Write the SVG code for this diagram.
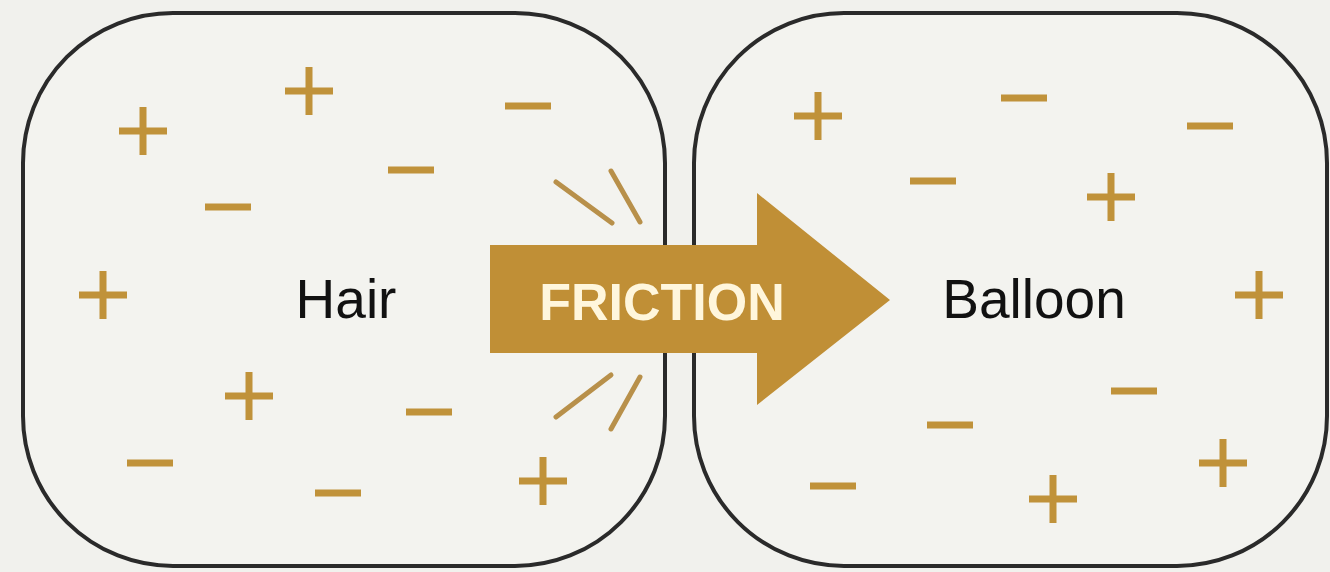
<svg xmlns="http://www.w3.org/2000/svg" width="1330" height="572" viewBox="0 0 1330 572">
  <style>
    .box { fill: #F3F3EF; stroke: #2A2A2A; stroke-width: 4; }
    .chg { stroke: #C0923A; stroke-width: 7; fill: none; }
    .spark { stroke: #B8904A; stroke-width: 5; stroke-linecap: round; fill: none; }
    .lbl { font-family: "Liberation Sans", Arial, sans-serif; font-size: 55px; fill: #111111; text-anchor: middle; }
    .arrowtxt { font-family: "Liberation Sans", Arial, sans-serif; font-size: 52px; font-weight: bold; fill: #FFF6DC; text-anchor: middle; }
  </style>
  <defs>
    <path id="plus" d="M-24,0 H24 M0,-24 V24" class="chg"/>
    <path id="minus" d="M-23,0 H23" class="chg"/>
  </defs>
  <rect width="1330" height="572" fill="#F1F1ED"/>

  <g id="hair">
    <rect class="box" x="23" y="13" width="642" height="553" rx="150" ry="150"/>
    <use href="#plus" x="143" y="131"/>
    <use href="#plus" x="309" y="91"/>
    <use href="#plus" x="103" y="295"/>
    <use href="#plus" x="249" y="396"/>
    <use href="#plus" x="543" y="481"/>
    <use href="#minus" x="528" y="106"/>
    <use href="#minus" x="411" y="170"/>
    <use href="#minus" x="228" y="207"/>
    <use href="#minus" x="429" y="412"/>
    <use href="#minus" x="150" y="463"/>
    <use href="#minus" x="338" y="493"/>
    <text class="lbl" x="346" y="318">Hair</text>
  </g>

  <g id="balloon">
    <rect class="box" x="694" y="13" width="633" height="553" rx="150" ry="150"/>
    <use href="#plus" x="818" y="116"/>
    <use href="#plus" x="1111" y="197"/>
    <use href="#plus" x="1259" y="295"/>
    <use href="#plus" x="1223" y="463"/>
    <use href="#plus" x="1053" y="499"/>
    <use href="#minus" x="1024" y="98"/>
    <use href="#minus" x="1210" y="126"/>
    <use href="#minus" x="933" y="181"/>
    <use href="#minus" x="1134" y="391"/>
    <use href="#minus" x="950" y="425"/>
    <use href="#minus" x="833" y="486"/>
    <text class="lbl" x="1034" y="318">Balloon</text>
  </g>

  <g id="connectors">
    <g id="friction">
      <path d="M490,245 H757 V193 L890,300 L757,405 V353 H490 Z" fill="#C08F36"/>
      <text class="arrowtxt" x="662" y="320">FRICTION</text>
    </g>
    <g id="sparks">
      <line class="spark" x1="556" y1="182" x2="612" y2="223"/>
      <line class="spark" x1="611" y1="171" x2="640" y2="222"/>
      <line class="spark" x1="556" y1="417" x2="611" y2="375"/>
      <line class="spark" x1="611" y1="429" x2="640" y2="377"/>
    </g>
  </g>
</svg>
